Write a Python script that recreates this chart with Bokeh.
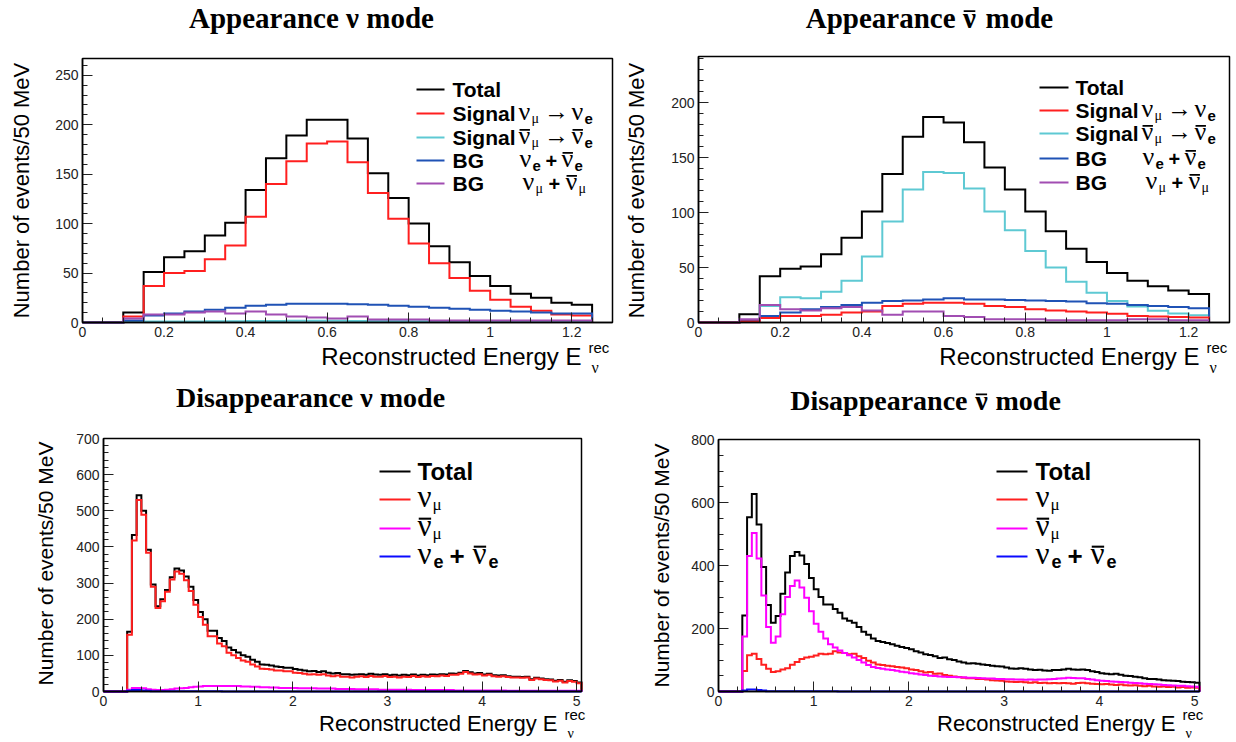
import numpy as np
from bokeh.plotting import figure
from bokeh.models import Label, SingleIntervalTicker, CustomJSTickFormatter, Range1d, BoxAnnotation
from bokeh.layouts import column, row
from bokeh.embed import file_html
from bokeh.resources import INLINE

BIN = 0.05
SANS = "Liberation Sans"
SERIF = "Liberation Serif"
NU = "ν"

# ---------------- data (events per 50 MeV bin, bins start at 0) ----------------
# Appearance nu mode (25 bins, 0 - 1.25)
app_nu_total = [0, 0, 10, 51, 66, 72, 88, 101, 134, 166, 189, 205, 205, 186, 151, 126, 100, 77, 61, 47, 37, 29, 25, 20, 18]
app_nu_sig_nue = [0, 0, 6, 37, 50, 52, 64, 78, 107, 140, 163, 181, 183, 162, 131, 105, 80, 60, 45, 32, 23, 16, 12, 8, 7]
app_nu_sig_nuebar = [0, 0, 0.5, 1, 1, 1, 1.2, 1.3, 1.5, 1.6, 1.7, 1.7, 1.7, 1.6, 1.5, 1.4, 1.3, 1.2, 1.1, 1.0, 0.9, 0.8, 0.7, 0.6, 0.5]
app_nu_bg_e = [0, 0, 2, 7, 9, 11, 13, 15, 17, 18, 19, 19, 19, 18.5, 18, 17, 16, 15, 14, 13, 12, 11, 10, 9, 9]
app_nu_bg_mu = [0, 0, 4, 8, 8, 10, 11, 9, 11, 8, 6, 5, 4, 6, 3, 3, 3, 2, 2, 2, 2, 2, 2, 2, 2]

# Appearance nubar mode (25 bins, 0 - 1.25)
app_nb_total = [0, 0, 7.6, 42, 49, 51, 62, 77, 101, 135, 169, 187, 182, 164, 141, 121, 101, 83, 67, 55, 45, 38, 33, 29, 26]
app_nb_sig_nue = [0, 0, 1, 4, 6, 6, 7, 9, 10, 15, 17, 18, 18, 17, 15, 14, 12, 11, 10, 9, 8, 6, 5.5, 5, 4.5]
app_nb_sig_nuebar = [0, 0, 1, 15, 23, 22, 28, 38, 60, 92, 121, 137, 136, 122, 101, 84, 65, 50, 37, 27, 19.5, 14.6, 10.6, 8.2, 6.7]
app_nb_bg_e = [0, 0, 2, 6, 9, 12, 14, 16, 18, 19.5, 20, 21, 22, 21, 21, 20.5, 20, 19.5, 19, 17.5, 17, 16, 15, 14, 13]
app_nb_bg_mu = [0, 0, 3, 16, 12, 11, 13, 14, 11, 7, 10, 10, 6, 5, 3, 3, 3, 2, 2, 2, 2, 3, 3, 2, 2]

# Disappearance nu mode (101 bins, 0 - 5.05)
dis_nu_total = [0, 0, 0, 0, 0,
    165, 433, 543, 500, 392, 296, 236, 255, 281, 316, 340, 335, 318, 290, 253, 220, 200, 168, 168, 148,
    140, 122, 115, 108, 100, 96, 88, 82, 75, 74, 72, 69, 68, 66, 66, 62, 60, 58, 56, 57,
    54, 56, 52, 50, 51, 48, 48, 46, 47, 48, 46, 49, 47, 46, 48, 45, 46, 44, 46, 45,
    47, 44, 46, 45, 47, 46, 48, 47, 50, 49, 52, 57, 53, 50, 51, 47, 49, 45, 44, 45,
    42, 41, 41, 40, 41, 34, 38, 36, 34, 33, 30, 32, 27, 31, 29, 25]
dis_nu_numu = [0, 0, 0, 0, 0,
    157, 418, 530, 489, 384, 290, 231, 250, 276, 310, 332, 326, 308, 278, 240, 206, 185, 153, 153, 133,
    125, 107, 100, 93, 86, 82, 75, 69, 63, 62, 61, 58, 58, 56, 56, 52, 51, 49, 47, 48,
    46, 48, 44, 42, 44, 41, 41, 39, 41, 42, 40, 43, 41, 41, 43, 40, 41, 39, 41, 40,
    43, 40, 42, 41, 43, 42, 44, 43, 46, 46, 49, 54, 50, 47, 48, 44, 46, 42, 41, 42,
    40, 39, 39, 38, 39, 32, 36, 34, 32, 31, 28, 30, 25, 29, 27, 23]
dis_nu_numubar = [0, 0, 0, 0, 0,
    5, 10, 10, 9, 6, 5, 4, 4, 5, 6, 8, 9, 10, 12, 13, 14, 15, 15, 15, 15,
    15, 15, 15, 15, 14, 14, 13, 13, 12, 12, 11, 11, 10, 10, 10, 10, 9, 9, 9, 9,
    8, 8, 8, 8, 7, 7, 7, 7, 6, 6, 6, 6, 6, 5, 5, 5, 5, 5, 5, 5,
    4, 4, 4, 4, 4, 4, 4, 4, 4, 3, 3, 3, 3, 3, 3, 3, 3, 3, 3, 3,
    2, 2, 2, 2, 2, 2, 2, 2, 2, 2, 2, 2, 2, 2, 2, 2]
dis_nu_nue = [0, 0, 0, 0, 0,
    2, 4, 4, 3, 2, 1, 1, 0.5, 0.5, 0.5, 0.5, 0.5, 0.5, 0.5, 0.5, 0.5, 0.5, 0.5, 0.5, 0.5,
    0.3, 0.3, 0.3, 0.3, 0.3, 0.3, 0.3, 0.3, 0.3, 0.3, 0.3, 0.3, 0.3, 0.3, 0.3, 0.3, 0.3, 0.3, 0.3, 0.3,
    0.3, 0.3, 0.3, 0.3, 0.3, 0.3, 0.3, 0.3, 0.3, 0.3, 0.3, 0.3, 0.3, 0.3, 0.3, 0.3, 0.3, 0.3, 0.3, 0.3,
    0.3, 0.3, 0.3, 0.3, 0.3, 0.3, 0.3, 0.3, 0.3, 0.3, 0.3, 0.3, 0.3, 0.3, 0.3, 0.3, 0.3, 0.3, 0.3, 0.3,
    0.3, 0.3, 0.3, 0.3, 0.3, 0.3, 0.3, 0.3, 0.3, 0.3, 0.3, 0.3, 0.3, 0.3, 0.3, 0.3]

# Disappearance nubar mode (101 bins, 0 - 5.05)
dis_nb_total = [0, 0, 0, 0, 0,
    241, 553, 627, 530, 395, 275, 218, 240, 310, 378, 430, 443, 432, 405, 360, 325, 300, 276, 276, 262,
    250, 232, 225, 218, 205, 190, 180, 168, 160, 157, 154, 150, 145, 141, 138, 134, 128, 124, 118, 116,
    112, 106, 108, 102, 100, 95, 92, 89, 90, 88, 86, 84, 82, 80, 79, 76, 73, 72, 74, 72,
    70, 68, 69, 67, 66, 68, 68, 70, 72, 70, 69, 70, 68, 64, 62, 58, 56, 55, 56, 53,
    50, 49, 47, 45, 42, 40, 40, 38, 36, 35, 34, 33, 31, 30, 29, 28]
dis_nb_numu = [0, 0, 0, 0, 0,
    65, 115, 120, 103, 85, 72, 62, 64, 70, 74, 85, 94, 103, 108, 110, 114, 120, 118, 120, 128,
    124, 122, 118, 120, 112, 106, 98, 92, 86, 84, 82, 80, 78, 76, 74, 70, 68, 64, 60, 62,
    56, 57, 52, 50, 48, 46, 44, 42, 42, 40, 40, 38, 36, 35, 34, 32, 31, 30, 31, 29,
    28, 29, 27, 28, 26, 27, 26, 27, 26, 25, 27, 28, 26, 25, 24, 23, 24, 22, 21, 22,
    20, 19, 20, 18, 17, 18, 16, 15, 16, 14, 15, 13, 14, 12, 13, 12]
dis_nb_numubar = [0, 0, 0, 0, 0,
    175, 430, 503, 422, 305, 205, 155, 175, 245, 300, 335, 352, 330, 298, 255, 215, 190, 168, 150, 140,
    130, 122, 115, 108, 100, 92, 84, 78, 75, 72, 70, 68, 66, 63, 61, 58, 56, 54, 52, 50,
    49, 48, 47, 46, 46, 45, 45, 44, 44, 43, 42, 41, 41, 40, 40, 39, 39, 38, 38, 37,
    38, 37, 38, 38, 39, 40, 41, 42, 44, 43, 42, 42, 40, 38, 36, 34, 33, 32, 31, 30,
    29, 28, 27, 26, 25, 24, 23, 22, 21, 20, 19, 18, 18, 17, 16, 15]
dis_nb_nue = [0, 0, 0, 0, 0,
    3, 6, 6, 5, 3, 1, 1, 0.5, 0.5, 0.5, 0.5, 0.5, 0.5, 0.5, 0.5, 0.5, 0.5, 0.5, 0.5, 0.5,
    0.3, 0.3, 0.3, 0.3, 0.3, 0.3, 0.3, 0.3, 0.3, 0.3, 0.3, 0.3, 0.3, 0.3, 0.3, 0.3, 0.3, 0.3, 0.3, 0.3,
    0.3, 0.3, 0.3, 0.3, 0.3, 0.3, 0.3, 0.3, 0.3, 0.3, 0.3, 0.3, 0.3, 0.3, 0.3, 0.3, 0.3, 0.3, 0.3, 0.3,
    0.3, 0.3, 0.3, 0.3, 0.3, 0.3, 0.3, 0.3, 0.3, 0.3, 0.3, 0.3, 0.3, 0.3, 0.3, 0.3, 0.3, 0.3, 0.3, 0.3,
    0.3, 0.3, 0.3, 0.3, 0.3, 0.3, 0.3, 0.3, 0.3, 0.3, 0.3, 0.3, 0.3, 0.3, 0.3, 0.3]

y_title = "Number of events/50 MeV"
x_title = "Reconstructed Energy E"

BLACK = "#000000"
RED = "#ff1f1f"
CYAN = "#5ec9d3"
BLUE = "#1f52b5"
PURPLE = "#a14db2"
MAG = "#ff00ff"
BLUE2 = "#0a0aff"


class Geo:
    """Figure placed at (ox, oy) with size w x h; the plot box spans image px L..R, T..B
    and shows data ranges xr, yr."""
    def __init__(self, ox, oy, w, h, L, R, T, B, xr, yr):
        self.ox, self.oy, self.w, self.h = ox, oy, w, h
        self.L, self.R, self.T, self.B = L, R, T, B
        self.xr, self.yr = xr, yr
        sx = (R - L) / (xr[1] - xr[0])
        sy = (B - T) / (yr[1] - yr[0])
        self.full_x = (xr[0] - (L - ox) / sx, xr[1] + (ox + w - R) / sx)
        self.full_y = (yr[0] - (oy + h - B) / sy, yr[1] + (T - oy) / sy)

    def d(self, ix, iy):
        x = self.xr[0] + (ix - self.L) / (self.R - self.L) * (self.xr[1] - self.xr[0])
        y = self.yr[0] + (self.B - iy) / (self.B - self.T) * (self.yr[1] - self.yr[0])
        return x, y


def outline(values):
    edges = BIN * np.arange(len(values) + 1)
    xs = [edges[0]]
    ys = [0.0]
    for i, v in enumerate(values):
        xs += [edges[i], edges[i + 1]]
        ys += [v, v]
    xs.append(edges[-1])
    ys.append(0.0)
    return xs, ys


def make_fig(g, xint, xminor, yint, yminor):
    p = figure(width=g.w, height=g.h, x_range=Range1d(*g.full_x), y_range=Range1d(*g.full_y),
               output_backend="svg", toolbar_location=None,
               min_border_left=0, min_border_right=0, min_border_top=0, min_border_bottom=0)
    p.title.visible = False
    p.grid.visible = False
    p.background_fill_color = "white"
    p.border_fill_color = "white"
    p.outline_line_color = None
    p.xaxis.ticker = SingleIntervalTicker(interval=xint, num_minor_ticks=xminor)
    p.yaxis.ticker = SingleIntervalTicker(interval=yint, num_minor_ticks=yminor)
    p.xaxis.fixed_location = g.yr[0]
    p.yaxis.fixed_location = g.xr[0]
    p.xaxis.bounds = g.xr
    p.yaxis.bounds = g.yr
    fmt = "return String(Math.round(tick*1000)/1000);"
    for ax in (p.xaxis[0], p.yaxis[0]):
        ax.formatter = CustomJSTickFormatter(code=fmt)
        ax.major_tick_in = 10
        ax.major_tick_out = 0
        ax.minor_tick_in = 5
        ax.minor_tick_out = 0
        ax.axis_line_color = "black"
        ax.axis_line_width = 1.5
        ax.major_tick_line_color = "#222222"
        ax.minor_tick_line_color = "#222222"
        ax.major_label_text_font = SANS
        ax.major_label_text_font_size = "14px"
        ax.major_label_text_color = "#222222"
        ax.major_label_standoff = 4
    p.add_layout(BoxAnnotation(left=g.xr[0], right=g.xr[1], bottom=g.yr[0], top=g.yr[1],
                               fill_alpha=0, line_color="black", line_alpha=1.0, line_width=1.5))
    return p


def txt(p, g, ix, iy, s, size, font=SANS, style="normal", align="left", angle=0.0):
    """Place text s with its vertical middle at image point (ix, iy)."""
    x, y = g.d(ix, iy)
    p.add_layout(Label(x=x, y=y, text=s, text_font=font, text_font_size=f"{size}px",
                       text_font_style=style, text_align=align, text_baseline="middle",
                       angle=angle, text_color="black"))


def seg(p, g, x0, x1, iy, color, width):
    a = g.d(x0, iy)
    b = g.d(x1, iy)
    p.line([a[0], b[0]], [a[1], b[1]], line_color=color, line_width=width)


def nubar(p, g, ix, iy, s, style="normal", align="left"):
    """Greek nu with an overbar (anti-neutrino)."""
    txt(p, g, ix, iy, NU, s, font=SERIF, style=style, align=align)
    cx = ix + 0.24 * s if align == "left" else ix
    seg(p, g, cx - 0.2 * s, cx + 0.2 * s, iy - 0.22 * s, "black", max(1.4, s / 15))


def hist(p, values, color):
    xs, ys = outline(values)
    p.line(xs, ys, line_color=color, line_width=2, line_join="miter")


def axis_titles(p, g, ytx, yty, ysize, xr_right, xcy, xsize, bottom=False):
    txt(p, g, ytx, yty, y_title, ysize, align="center", angle=np.pi / 2)
    txt(p, g, xr_right, xcy, x_title, xsize, align="right")
    txt(p, g, xr_right + 7, xcy - 9, "rec", 15)
    if bottom:
        txt(p, g, xr_right + 10, xcy + 10, "ν", 14, font=SERIF)
    else:
        txt(p, g, xr_right + 10, xcy + 11, "ν", 16, font=SERIF)


def title_bar(p, g, word, right, nux, after, ty, size):
    txt(p, g, right, ty, word, size, font=SERIF, style="bold", align="right")
    nubar(p, g, nux, ty, size, style="bold", align="center")
    txt(p, g, after, ty, "mode", size, font=SERIF, style="bold", align="left")


def app_legend(p, g, lx0, lx1, tx, rows, colors):
    for iy, c in zip(rows, colors):
        seg(p, g, lx0, lx1, iy, c, 2)
    b = rows
    txt(p, g, tx, b[0], "Total", 21, style="bold")
    for k, bar in ((1, False), (2, True)):
        txt(p, g, tx, b[k], "Signal", 21, style="bold")
        if bar:
            nubar(p, g, tx + 66, b[k] - 2, 26)
            nubar(p, g, tx + 119, b[k] - 2, 26)
        else:
            txt(p, g, tx + 66, b[k] - 2, NU, 26, font=SERIF)
            txt(p, g, tx + 119, b[k] - 2, NU, 26, font=SERIF)
        txt(p, g, tx + 79, b[k] + 5, "μ", 14, font=SERIF)
        txt(p, g, tx + 104, b[k] - 2, "→", 25, font=SERIF, align="center")
        txt(p, g, tx + 132, b[k] + 5, "e", 15, style="bold")
    txt(p, g, tx, b[3], "BG", 21, style="bold")
    txt(p, g, tx + 67, b[3] - 2, NU, 26, font=SERIF)
    txt(p, g, tx + 80, b[3] + 5, "e", 15, style="bold")
    txt(p, g, tx + 93, b[3], "+", 20, style="bold")
    nubar(p, g, tx + 109, b[3] - 2, 26)
    txt(p, g, tx + 122, b[3] + 5, "e", 15, style="bold")
    txt(p, g, tx, b[4], "BG", 21, style="bold")
    txt(p, g, tx + 70, b[4] - 2, NU, 26, font=SERIF)
    txt(p, g, tx + 83, b[4] + 5, "μ", 14, font=SERIF)
    txt(p, g, tx + 96, b[4], "+", 20, style="bold")
    nubar(p, g, tx + 113, b[4] - 2, 26)
    txt(p, g, tx + 126, b[4] + 5, "μ", 14, font=SERIF)


def dis_legend(p, g, lx0, lx1, tx, rows, colors):
    for iy, c in zip(rows, colors):
        seg(p, g, lx0, lx1, iy, c, 2)
    b = rows
    txt(p, g, tx, b[0], "Total", 24, style="bold")
    txt(p, g, tx, b[1] - 3, NU, 31, font=SERIF)
    txt(p, g, tx + 15, b[1] + 5, "μ", 17, font=SERIF)
    nubar(p, g, tx, b[2] - 3, 31)
    txt(p, g, tx + 15, b[2] + 5, "μ", 17, font=SERIF)
    txt(p, g, tx, b[3] - 3, NU, 31, font=SERIF)
    txt(p, g, tx + 16, b[3] + 5, "e", 18, style="bold")
    txt(p, g, tx + 32, b[3] - 1, "+", 26, style="bold")
    nubar(p, g, tx + 55, b[3] - 3, 31)
    txt(p, g, tx + 71, b[3] + 5, "e", 18, style="bold")


# ---------------- panel 1 ----------------
g1 = Geo(0, 0, 620, 380, 82, 612, 58, 322, (0, 1.3), (0, 267))
p1 = make_fig(g1, 0.2, 4, 50, 5)
hist(p1, app_nu_total, BLACK)
hist(p1, app_nu_sig_nue, RED)
hist(p1, app_nu_sig_nuebar, CYAN)
hist(p1, app_nu_bg_e, BLUE)
hist(p1, app_nu_bg_mu, PURPLE)
app_legend(p1, g1, 416, 444, 452, [89, 113, 137, 160, 183], [BLACK, RED, CYAN, BLUE, PURPLE])
txt(p1, g1, 311, 17, "Appearance ν mode", 29, font=SERIF, style="bold", align="center")
axis_titles(p1, g1, 21, 190, 22, 581, 356, 24)

# ---------------- panel 2 ----------------
g2 = Geo(620, 0, 616, 380, 698, 1229, 56, 322, (0, 1.3), (0, 242))
p2 = make_fig(g2, 0.2, 4, 50, 5)
hist(p2, app_nb_total, BLACK)
hist(p2, app_nb_sig_nuebar, CYAN)
hist(p2, app_nb_bg_e, BLUE)
hist(p2, app_nb_sig_nue, RED)
hist(p2, app_nb_bg_mu, PURPLE)
app_legend(p2, g2, 1039, 1068, 1075, [87, 110, 133, 158, 182], [BLACK, RED, CYAN, BLUE, PURPLE])
title_bar(p2, g2, "Appearance", 955, 969, 985, 17, 29)
axis_titles(p2, g2, 636, 190, 22, 1199, 356, 24)

# ---------------- panel 3 ----------------
g3 = Geo(0, 380, 620, 362, 103, 581, 438, 691, (0, 5.05), (0, 700))
p3 = make_fig(g3, 1, 5, 100, 5)
hist(p3, dis_nu_total, BLACK)
hist(p3, dis_nu_numu, RED)
hist(p3, dis_nu_numubar, MAG)
hist(p3, dis_nu_nue, BLUE2)
dis_legend(p3, g3, 379, 410, 417, [471, 499, 528, 556], [BLACK, RED, MAG, BLUE2])
txt(p3, g3, 310, 397, "Disappearance ν mode", 28, font=SERIF, style="bold", align="center")
axis_titles(p3, g3, 45, 563, 21, 557, 723, 22, bottom=True)

# ---------------- panel 4 ----------------
g4 = Geo(620, 380, 616, 362, 718, 1199, 439, 691, (0, 5.05), (0, 800))
p4 = make_fig(g4, 1, 5, 200, 4)
hist(p4, dis_nb_total, BLACK)
hist(p4, dis_nb_numu, RED)
hist(p4, dis_nb_numubar, MAG)
hist(p4, dis_nb_nue, BLUE2)
dis_legend(p4, g4, 996, 1027, 1035, [471, 499, 528, 556], [BLACK, RED, MAG, BLUE2])
title_bar(p4, g4, "Disappearance", 967, 981, 995, 400, 28)
axis_titles(p4, g4, 661, 565, 21, 1175, 723, 22, bottom=True)

layout = column(row(p1, p2, spacing=0), row(p3, p4, spacing=0), spacing=0)
open("out.html", "w").write(file_html(layout, INLINE))
